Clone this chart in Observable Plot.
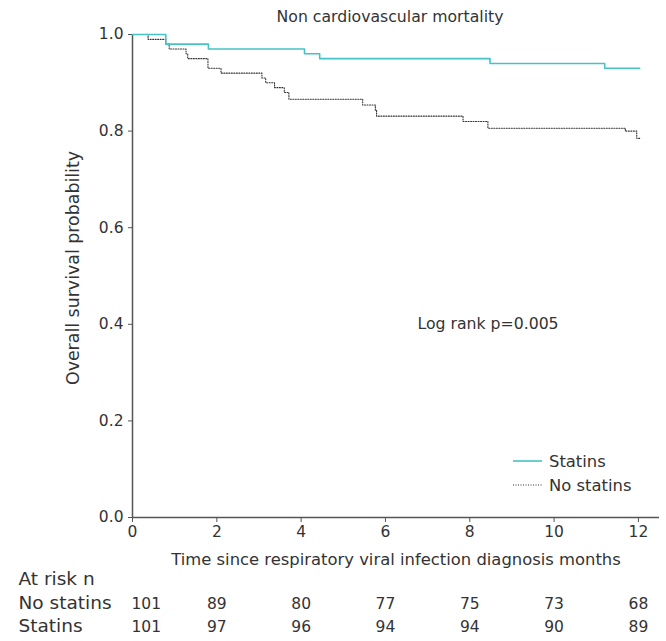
<!DOCTYPE html>
<html>
<head>
<meta charset="utf-8">
<script src="https://cdn.jsdelivr.net/npm/d3@7"></script>
<script src="https://cdn.jsdelivr.net/npm/@observablehq/plot@0.6"></script>
<style>
  html, body { margin: 0; padding: 0; background: #fff; }
  #chart svg { font-family: "DejaVu Sans", sans-serif; }
</style>
</head>
<body>
<div id="chart"></div>
<script>
// Kaplan-Meier step points (time in months, survival probability)
const statinsTime = [0, 0.79, 1.80, 4.08, 4.44, 8.48, 11.20, 12.03];
const statinsSurv = [1.0, 0.98, 0.97, 0.96, 0.95, 0.94, 0.93, 0.93];

const noStatinsTime = [0, 0.37, 0.79, 0.87, 1.27, 1.31, 1.79, 2.10, 3.07, 3.16, 3.37, 3.60, 3.71, 5.46, 5.76, 5.79, 7.84, 8.43, 11.69, 11.96, 12.03];
const noStatinsSurv = [1.0, 0.99, 0.98, 0.97, 0.96, 0.95, 0.93, 0.92, 0.91, 0.90, 0.89, 0.88, 0.866, 0.854, 0.843, 0.831, 0.820, 0.806, 0.800, 0.785, 0.785];

// At-risk table
const riskTimes = [0, 2, 4, 6, 8, 10, 12];
const riskNoStatins = [101, 89, 80, 77, 75, 73, 68];
const riskStatins = [101, 97, 96, 94, 94, 90, 89];

const xTicks = [0, 2, 4, 6, 8, 10, 12];
const yTicks = [0, 0.2, 0.4, 0.6, 0.8, 1.0];

const titleText = "Non cardiovascular mortality";
const xLabel = "Time since respiratory viral infection diagnosis months";
const yLabel = "Overall survival probability";
const pText = "Log rank p=0.005";
const pTextPos = {x: 6.76, y: 0.40};

const statinsData = statinsTime.map((t, i) => ({t, s: statinsSurv[i]}));
const noStatinsData = noStatinsTime.map((t, i) => ({t, s: noStatinsSurv[i]}));
const riskData = riskTimes.map((t, i) => ({t, i, no: riskNoStatins[i], st: riskStatins[i]}));
const riskFirst = riskData.filter(d => d.i === 0);
const riskRest = riskData.filter(d => d.i > 0);

const textColor = "#333";
const axisColor = "#555";
const cyan = "#45c2c6";

const chart = Plot.plot({
  width: 666,
  height: 641,
  marginLeft: 132,
  marginRight: 7,
  marginTop: 34,
  marginBottom: 124,
  style: {fontSize: "15px", color: textColor, background: "#fff"},
  x: {domain: [0, 12.5]},
  y: {domain: [0, 1]},
  marks: [
    Plot.axisX({ticks: xTicks, tickSize: 5, tickPadding: 3, label: null, stroke: axisColor, color: textColor, fontSize: 15.5}),
    Plot.axisY({ticks: yTicks, tickSize: 4, tickPadding: 5, tickFormat: d3.format(".1f"), label: null, stroke: axisColor, color: textColor, fontSize: 15.5}),
    Plot.ruleX([0], {stroke: axisColor, strokeWidth: 1.5}),
    Plot.ruleY([0], {stroke: axisColor, strokeWidth: 1.5}),
    Plot.line(noStatinsData, {x: "t", y: "s", curve: "step-after", stroke: "#333", strokeWidth: 1.1, strokeDasharray: "1,1.5"}),
    Plot.line(statinsData, {x: "t", y: "s", curve: "step-after", stroke: cyan, strokeWidth: 1.6}),
    Plot.text([pText], {x: () => pTextPos.x, y: () => pTextPos.y, text: d => d, textAnchor: "start", fill: textColor, fontSize: 15.7}),
    Plot.text([titleText], {frameAnchor: "top", dx: -6, dy: -24, text: d => d, fill: textColor, fontSize: 15.7}),
    Plot.text([xLabel], {frameAnchor: "bottom", dy: 47, text: d => d, fill: textColor, fontSize: 16.4}),
    Plot.text([yLabel], {frameAnchor: "left", dx: -59, dy: -8, rotate: -90, textAnchor: "middle", text: d => d, fill: textColor, fontSize: 17.4}),
    Plot.text(["At risk n"], {frameAnchor: "bottom-left", dx: -114, dy: 67, textAnchor: "start", text: d => d, fill: textColor, fontSize: 18.5}),
    Plot.text(["No statins"], {frameAnchor: "bottom-left", dx: -114, dy: 91, textAnchor: "start", text: d => d, fill: textColor, fontSize: 18.5}),
    Plot.text(["Statins"], {frameAnchor: "bottom-left", dx: -114, dy: 114, textAnchor: "start", text: d => d, fill: textColor, fontSize: 18.5}),
    Plot.text(riskFirst, {x: "t", frameAnchor: "bottom", dy: 91, dx: -1, text: "no", textAnchor: "start", fill: textColor, fontSize: 15.5}),
    Plot.text(riskFirst, {x: "t", frameAnchor: "bottom", dy: 114, dx: -1, text: "st", textAnchor: "start", fill: textColor, fontSize: 15.5}),
    Plot.text(riskRest, {x: "t", frameAnchor: "bottom", dy: 91, text: "no", textAnchor: "middle", fill: textColor, fontSize: 15.5}),
    Plot.text(riskRest, {x: "t", frameAnchor: "bottom", dy: 114, text: "st", textAnchor: "middle", fill: textColor, fontSize: 15.5})
  ]
});

// Legend (line-style key) inside the plot area
const svg = d3.select(chart);
const lg = svg.append("g").attr("font-size", 16.4).attr("fill", textColor).attr("text-anchor", "start");
const legendItems = [
  {label: "Statins", stroke: cyan, dash: null, w: 1.6, y: 461},
  {label: "No statins", stroke: "#333", dash: "1,1.5", w: 1.1, y: 485}
];
legendItems.forEach(it => {
  lg.append("line").attr("x1", 513).attr("x2", 542).attr("y1", it.y).attr("y2", it.y)
    .attr("stroke", it.stroke).attr("stroke-width", it.w).attr("stroke-dasharray", it.dash);
  lg.append("text").attr("x", 549).attr("y", it.y).attr("dy", "0.35em").attr("text-anchor", "start").text(it.label);
});

document.getElementById("chart").appendChild(chart);
</script>
</body>
</html>
